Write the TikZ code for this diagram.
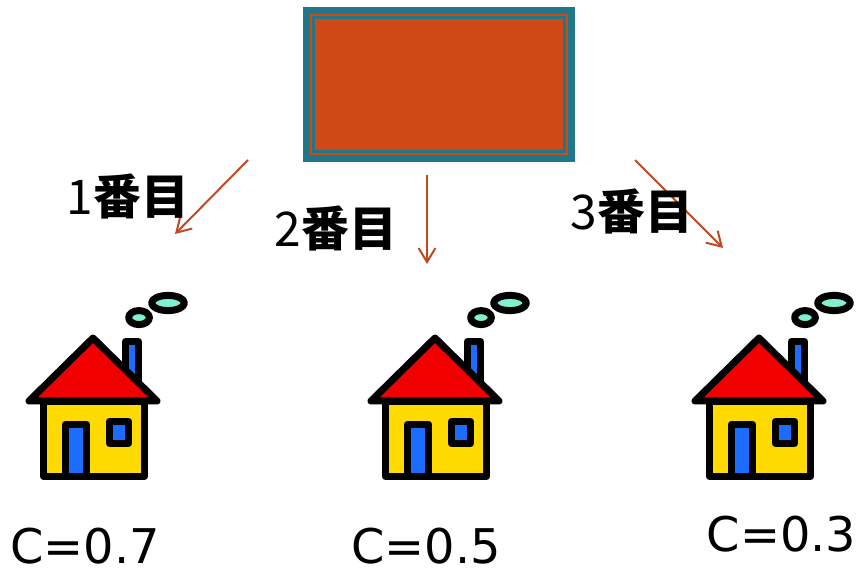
\documentclass[tikz,border=0pt]{standalone}
\usepackage{fontspec}
\setmainfont{DejaVu Sans}
\newfontfamily\jpfont{Noto Sans CJK JP}
\usetikzlibrary{arrows.meta}
\definecolor{boxfill}{HTML}{D04A17}
\definecolor{boxrim}{HTML}{21778A}
\definecolor{arrowred}{HTML}{C2461E}
\definecolor{roofred}{HTML}{F20000}
\definecolor{wallyellow}{HTML}{FFDA00}
\definecolor{paneblue}{HTML}{1C6CFF}
\definecolor{smokecyan}{HTML}{80F0D2}
\tikzset{
	outline/.style={draw=black, line width=0.175cm, line join=round},
	pointer/.style={draw=arrowred, line width=1.4pt, -{Straight Barb[length=3.5mm,width=4.2mm]}},
	order/.style={font=\jpfont\fontsize{34}{40}\selectfont, inner sep=0pt},
	score/.style={font=\fontsize{34}{40}\selectfont, inner sep=0pt},
}
% house with chimney and two puffs of smoke, lower left corner at (#1,#2)
\def\house(#1,#2){
	\begin{scope}[shift={(#1,#2)}]
		\draw[outline, fill=paneblue] (2.51, 2.13) rectangle (2.84, 3.46);
		\draw[outline, fill=wallyellow] (0.46, 0.09) rectangle (2.99, 1.95);
		\draw[outline, fill=paneblue] (1.01, 0.09) rectangle (1.54, 1.39);
		\draw[outline, fill=paneblue] (2.11, 0.915) rectangle (2.59, 1.46);
		\draw[outline, fill=roofred] (0.1, 1.975) -- (1.7, 3.55) -- (3.3, 1.975) -- cycle;
		\draw[outline, fill=smokecyan] (2.85, 4.06) ellipse (0.26 and 0.175);
		\draw[outline, fill=smokecyan] (3.575, 4.425) ellipse (0.41 and 0.19);
	\end{scope}
}

\begin{document}
\begin{tikzpicture}
		%%%%% START %%%%%
		\useasboundingbox (0, 0) rectangle (21.425, 14.3);
		
		% the box on top, with its double rim
		\fill[boxrim] (7.575, 10.25) rectangle (14.375, 14.125);
		\fill[boxfill] (7.74, 10.42) rectangle (14.21, 13.96);
		\fill[boxrim] (7.8, 10.475) rectangle (14.15, 13.9);
		\fill[boxfill] (7.865, 10.54) rectangle (14.085, 13.835);
		
		\coordinate (from1) at (6.2, 10.3);
		\coordinate (to1) at (4.375, 8.45);
		\coordinate (from2) at (10.675, 9.925);
		\coordinate (to2) at (10.675, 7.7);
		\coordinate (from3) at (15.875, 10.3);
		\coordinate (to3) at (18.075, 8.1);
		
		\draw[pointer] (from1) -- (to1);
		\draw[pointer] (from2) -- (to2);
		\draw[pointer] (from3) -- (to3);
		
		\node[order] (first) at (3.2, 9.4) {1{\bfseries 番目}};
		\node[order] (second) at (8.4, 8.6) {2{\bfseries 番目}};
		\node[order] (third) at (15.8, 9.025) {3{\bfseries 番目}};
		
		\house(0.625, 2.3)
		\house(9.175, 2.3)
		\house(17.275, 2.3)
		
		\node[score] (c1) at (2.125, 0.65) {C=0.7};
		\node[score] (c2) at (10.65, 0.65) {C=0.5};
		\node[score] (c3) at (19.54, 0.95) {C=0.3};
		%%%%% END %%%%%
\end{tikzpicture}
\end{document}
